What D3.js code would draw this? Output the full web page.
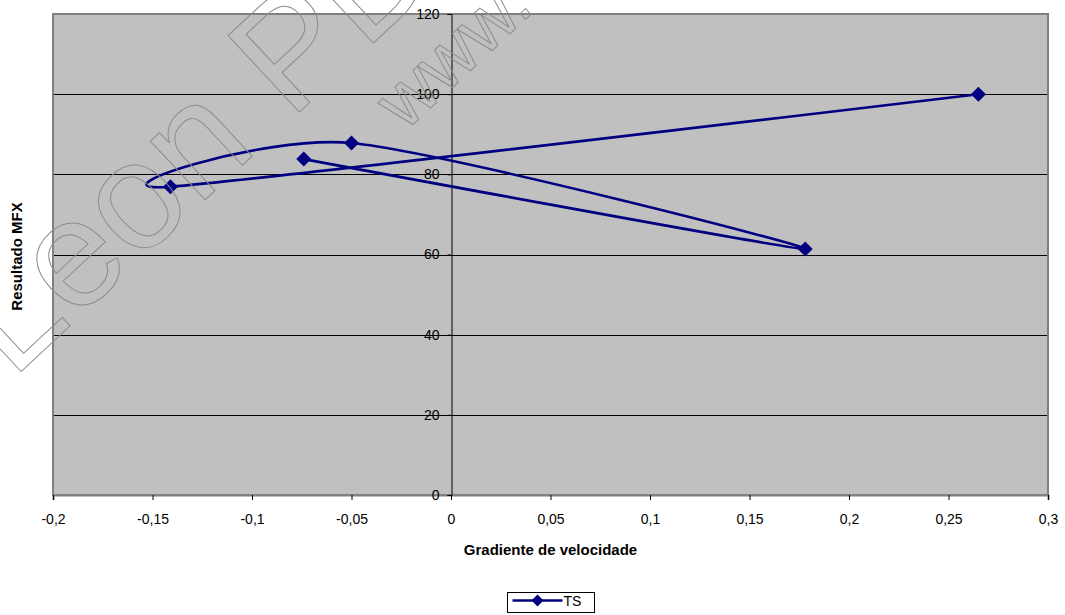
<!DOCTYPE html>
<html>
<head>
<meta charset="utf-8">
<script src="https://cdn.jsdelivr.net/npm/d3@7"></script>
<style>
  html, body { margin: 0; padding: 0; background: #fff; }
  svg { display: block; font-family: Arial, "Liberation Sans", sans-serif; }
</style>
</head>
<body>
<svg id="chart" width="1065" height="615"></svg>
<script>
// Series TS: velocity gradient (x) against MFX result (y), in drawing order
const seriesName = "TS";
const gradient = [-0.074, 0.178, -0.050, -0.141, 0.265];
const mfx = [83.8, 61.4, 87.8, 76.9, 100.0];

// Axis ticks
const xTicks = [-0.2, -0.15, -0.1, -0.05, 0, 0.05, 0.1, 0.15, 0.2, 0.25, 0.3];
const yTicks = [0, 20, 40, 60, 80, 100, 120];

const xTitle = "Gradiente de velocidade";
const yTitle = "Resultado MFX";

const svg = d3.select("#chart");
const plot = { left: 53, right: 1048, top: 14, bottom: 495 };
const navy = "#000080";
const font = "Arial, 'Liberation Sans', sans-serif";

const x = d3.scaleLinear().domain([-0.2, 0.3]).range([plot.left, plot.right]);
const y = d3.scaleLinear().domain([0, 120]).range([plot.bottom, plot.top]);

// Decimal comma for the tick labels
const locale = d3.formatLocale({ decimal: ",", thousands: ".", grouping: [3], currency: ["", ""], minus: "-" });
const fmt = locale.format("~g");

// Plot area
svg.append("rect")
  .attr("x", plot.left).attr("y", plot.top)
  .attr("width", plot.right - plot.left).attr("height", plot.bottom - plot.top)
  .attr("fill", "#c0c0c0");

// Horizontal gridlines
svg.append("g")
  .selectAll("line")
  .data(yTicks.filter(d => d > 0 && d < 120))
  .join("line")
  .attr("x1", plot.left).attr("x2", plot.right)
  .attr("y1", d => Math.round(y(d)) + 0.5).attr("y2", d => Math.round(y(d)) + 0.5)
  .attr("stroke", "#000").attr("stroke-width", 1);

// Plot border
svg.append("rect")
  .attr("x", plot.left).attr("y", plot.top)
  .attr("width", plot.right - plot.left).attr("height", plot.bottom - plot.top)
  .attr("fill", "none").attr("stroke", "#808080").attr("stroke-width", 2);

// X axis along the bottom
const xAxis = svg.append("g")
  .attr("transform", `translate(0,${plot.bottom})`)
  .call(d3.axisBottom(x).tickValues(xTicks).tickFormat(fmt).tickSize(5).tickPadding(14));
xAxis.select(".domain").attr("stroke", "#808080").attr("stroke-width", 2);
xAxis.selectAll(".tick line").attr("stroke", "#000");
xAxis.selectAll(".tick text")
  .attr("font-size", 14).attr("font-family", font).attr("fill", "#000");

// Y axis crossing at x = 0
const yAxis = svg.append("g")
  .attr("transform", `translate(${Math.round(x(0)) + 0.5},0)`)
  .call(d3.axisLeft(y).tickValues(yTicks).tickFormat(fmt).tickSize(4).tickPadding(8));
yAxis.select(".domain").attr("stroke", "#000").attr("stroke-width", 1);
yAxis.selectAll(".tick line").attr("stroke", "#000");
yAxis.selectAll(".tick text")
  .attr("font-size", 14).attr("font-family", font).attr("fill", "#000");

// Axis titles
svg.append("text")
  .attr("x", (plot.left + plot.right) / 2).attr("y", 555)
  .attr("text-anchor", "middle")
  .attr("font-size", 15).attr("font-weight", "bold")
  .text(xTitle);

svg.append("text")
  .attr("transform", `translate(22,${(plot.top + plot.bottom) / 2 + 2}) rotate(-90)`)
  .attr("text-anchor", "middle")
  .attr("font-size", 15).attr("font-weight", "bold")
  .text(yTitle);

// Series: smoothed line through the points, then diamond markers
const pts = gradient.map((g, i) => [g, mfx[i]]);
const line = d3.line()
  .x(d => x(d[0])).y(d => y(d[1]))
  .curve(d3.curveCardinal.tension(0.15));

svg.append("path")
  .datum(pts)
  .attr("d", line)
  .attr("fill", "none").attr("stroke", navy).attr("stroke-width", 2.6)
  .attr("stroke-linejoin", "round");

const diamond = s => `M0,${-s}L${s},0L0,${s}L${-s},0Z`;
svg.append("g")
  .selectAll("path")
  .data(pts)
  .join("path")
  .attr("transform", d => `translate(${x(d[0])},${y(d[1])})`)
  .attr("d", diamond(7.5))
  .attr("fill", navy);

// Legend
const lg = svg.append("g").attr("transform", "translate(507.5,592.5)");
lg.append("rect").attr("width", 87).attr("height", 20)
  .attr("fill", "#fff").attr("stroke", "#000").attr("stroke-width", 1);
lg.append("line").attr("x1", 5).attr("x2", 55).attr("y1", 8).attr("y2", 8)
  .attr("stroke", navy).attr("stroke-width", 2.6);
lg.append("path").attr("transform", "translate(30,8)").attr("d", diamond(6)).attr("fill", navy);
lg.append("text").attr("x", 56).attr("y", 13.5)
  .attr("font-size", 14).text(seriesName);

// Outlined diagonal watermark lettering, laid over the chart
const wm = svg.append("g").attr("fill", "none").attr("stroke", "#8c8c8c").attr("stroke-width", 1)
  .attr("font-family", font);
wm.append("text")
  .attr("transform", "translate(12,380) rotate(-43)")
  .attr("font-size", 152)
  .text("Leon PDF");
wm.append("text")
  .attr("transform", "translate(405,132) rotate(-43)")
  .attr("font-size", 75)
  .text("www.");
</script>
</body>
</html>
